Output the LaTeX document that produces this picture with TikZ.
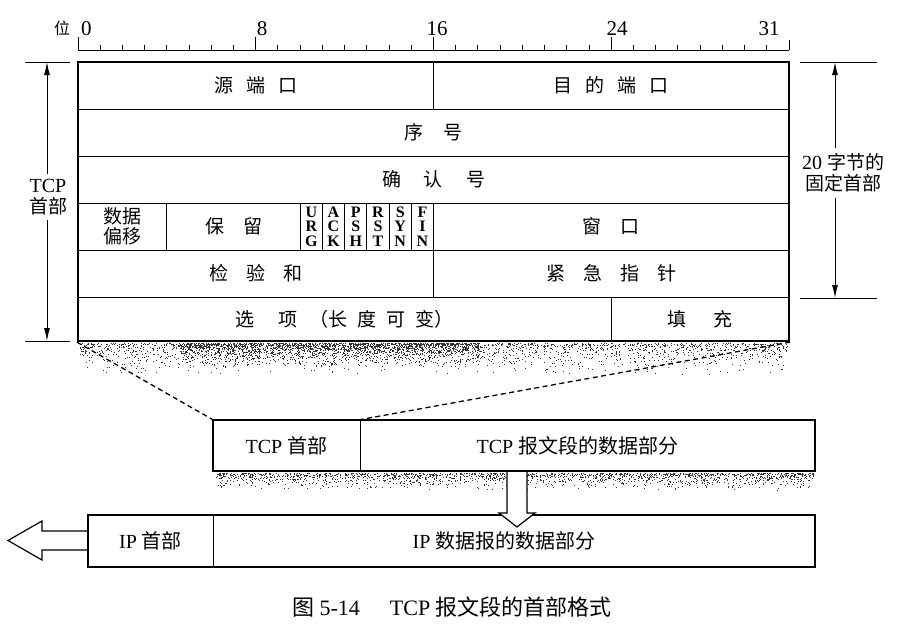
\documentclass[tikz,border=0pt]{standalone}
\usepackage{fontspec}
\setmainfont{Liberation Serif}
\newfontfamily\cjk{Noto Sans CJK SC}
\usetikzlibrary{arrows.meta,calc}
\begin{document}
\begin{tikzpicture}[x=1pt,y=-1pt,
  span/.style n args={4}{at={({(#1+#3)/2},{(#2+#4)/2})}, minimum width={(#3-#1)*1pt}, minimum height={(#4-#2)*1pt}},
  cell/.style={draw, line width=0.9pt, inner sep=0pt, align=center, font=\fontsize{19}{22}\selectfont\cjk},
  flag/.style={draw, line width=0.9pt, inner sep=0pt, align=center, font=\fontsize{16}{14.6}\selectfont\bfseries},
  outer/.style={draw, line width=2.2pt, inner sep=0pt},
  box/.style={draw, line width=0.9pt, inner sep=0pt, font=\fontsize{20}{24}\selectfont},
  dim/.style={line width=1pt, -{Latex[length=13pt,width=6pt]}},
  tick/.style={line width=1pt},
  lbl/.style={font=\fontsize{20}{24}\selectfont, align=center, inner sep=5pt},
  num/.style={font=\fontsize{21}{22}\selectfont, inner sep=0pt, anchor=base},
  hollow/.style={draw, line width=1.2pt, fill=white, line join=miter},
  dashline/.style={line width=1.3pt, dash pattern=on 5pt off 3.5pt},
  speck/.style={fill=black!80},
]
\useasboundingbox (0,0) rectangle (906,635);

% ruler
\draw[tick] (78,50) -- (789,50);
\foreach \k in {1,...,31} \draw[tick] ({78+\k*22.219},50) -- ({78+\k*22.219},45);
\foreach \k in {0,8,16,24} \draw[tick] ({78+\k*22.219},50) -- ({78+\k*22.219},37);
\draw[tick] (789,50) -- (789,40);
\node[num, anchor=base west] (n0) at (81,35) {0};
\node[num] (n8) at (262,35) {8};
\node[num] (n16) at (437,35) {16};
\node[num] (n24) at (617,35) {24};
\node[num] (n31) at (769,35) {31};
\node[font=\fontsize{16}{18}\selectfont\cjk, anchor=base, inner sep=0pt] (wei) at (62,34) {位};

% header cells
\node[cell, span={78}{62}{433.5}{109}] (srcport) {源\hspace{13pt}端\hspace{13pt}口};
\node[cell, span={433.5}{62}{789}{109}] (dstport) {目\hspace{13pt}的\hspace{13pt}端\hspace{13pt}口};
\node[cell, span={78}{109}{789}{156}] (seq) {序\hspace{21pt}号};
\node[cell, span={78}{156}{789}{203}] (ack) {确\hspace{23pt}认\hspace{23pt}号};
\node[cell, span={78}{203}{166.9}{250}] (off) {数据\\[-2pt]偏移};
\node[cell, span={166.9}{203}{300.2}{250}] (rsv) {保\hspace{19pt}留};
\node[flag, span={300.2}{203}{322.4}{250}] (furg) {U\\R\\G};
\node[flag, span={322.4}{203}{344.6}{250}] (fack) {A\\C\\K};
\node[flag, span={344.6}{203}{366.9}{250}] (fpsh) {P\\S\\H};
\node[flag, span={366.9}{203}{389.1}{250}] (frst) {R\\S\\T};
\node[flag, span={389.1}{203}{411.3}{250}] (fsyn) {S\\Y\\N};
\node[flag, span={411.3}{203}{433.5}{250}] (ffin) {F\\I\\N};
\node[cell, span={433.5}{203}{789}{250}] (win) {窗\hspace{19pt}口};
\node[cell, span={78}{250}{433.5}{297}] (chk) {检\hspace{18pt}验\hspace{18pt}和};
\node[cell, span={433.5}{250}{789}{297}] (urgp) {紧\hspace{18pt}急\hspace{18pt}指\hspace{18pt}针};
\node[cell, span={78}{297}{611.3}{341}] (opt) {选\hspace{24pt}项\hspace{12pt}（长\hspace{10pt}度\hspace{10pt}可\hspace{10pt}变）};
\node[cell, span={611.3}{297}{789}{341}] (pad) {填\hspace{27pt}充};
\node[outer, span={78}{62}{789}{341}] (hdr) {};

% speckled shadow under header
\pgfmathsetseed{42}
\foreach \i in {1,...,2000}{
  \pgfmathsetmacro\px{80+707*rnd}
  \pgfmathsetmacro\py{343+32*rnd*rnd}
  \fill[speck] (\px,\py) rectangle ++(1,1);
}
\foreach \i in {1,...,1800}{
  \pgfmathsetmacro\px{180+300*rnd}
  \pgfmathsetmacro\py{343+24*rnd*rnd}
  \fill[speck] (\px,\py) rectangle ++(1,1);
}

% left dimension
\coordinate (lt) at (47,62);
\coordinate (lb) at (47,341);
\coordinate (ltl) at (25,62); \coordinate (ltr) at (70,62);
\coordinate (lbl) at (25,341); \coordinate (lbr) at (70,341);
\draw[tick] (ltl) -- (ltr);
\draw[tick] (lbl) -- (lbr);
\node[lbl] (tcplab) at (48,197) {TCP\\[-3pt]{\cjk\fontsize{19}{22}\selectfont 首部}};
\draw[dim] (tcplab.north -| lt) -- (lt);
\draw[dim] (tcplab.south -| lb) -- (lb);

% right dimension
\coordinate (rt) at (835,62);
\coordinate (rb) at (835,298);
\coordinate (rtl) at (800,62); \coordinate (rtr) at (877,62);
\coordinate (rbl) at (800,298); \coordinate (rbr) at (877,298);
\draw[tick] (rtl) -- (rtr);
\draw[tick] (rbl) -- (rbr);
\node[lbl] (fixlab) at (843,173) {20 {\cjk\fontsize{19}{22}\selectfont 字节的}\\[-3pt]{\cjk\fontsize{19}{22}\selectfont 固定首部}};
\draw[dim] (fixlab.north -| rt) -- (rt);
\draw[dim] (fixlab.south -| rb) -- (rb);

% TCP segment
\node[box, span={213}{420}{360}{471}] (tcph) {TCP {\cjk\fontsize{20}{24}\selectfont 首部}};
\node[box, span={360}{420}{815}{471}] (tcpd) {\hspace{-20pt}TCP {\cjk\fontsize{20}{24}\selectfont 报文段的数据部分}};
\node[outer, span={213}{420}{815}{471}] (tcpseg) {};
\foreach \i in {1,...,1800}{
  \pgfmathsetmacro\px{215+598*rnd}
  \pgfmathsetmacro\py{473+17*rnd*rnd}
  \fill[speck] (\px,\py) rectangle ++(1,1);
}

% dashed zoom lines
\draw[dashline] (hdr.south west) -- (tcph.north west);
\draw[dashline] (hdr.south east) -- (tcph.north east);

% IP datagram
\node[box, span={88}{515}{213}{567}] (iph) {IP {\cjk\fontsize{20}{24}\selectfont 首部}};
\node[box, span={213}{515}{815}{567}] (ipd) {\hspace{-20pt}IP {\cjk\fontsize{20}{24}\selectfont 数据报的数据部分}};
\node[outer, span={88}{515}{815}{567}] (ipdg) {};

% hollow down arrow
\fill[white] (507,472) -- (507,513) -- (499,513) -- (517,527) -- (535,513) -- (527,513) -- (527,472) -- cycle;
\draw[line width=1.2pt, line join=miter] (507,472) -- (507,513) -- (499,513) -- (517,527) -- (535,513) -- (527,513) -- (527,472);

% hollow left arrow
\draw[hollow] (ipdg.west |- 0,531) -- (42,531) -- (42,521) -- (8,540.5) -- (42,560) -- (42,550) -- (ipdg.west |- 0,550);

% caption
\node[font=\fontsize{22}{24}\selectfont, inner sep=0pt] (cap) at (452,607) {{\cjk\fontsize{22}{24}\selectfont 图} 5-14\hspace{30pt}TCP {\cjk\fontsize{22}{24}\selectfont 报文段的首部格式}};
\end{tikzpicture}
\end{document}
